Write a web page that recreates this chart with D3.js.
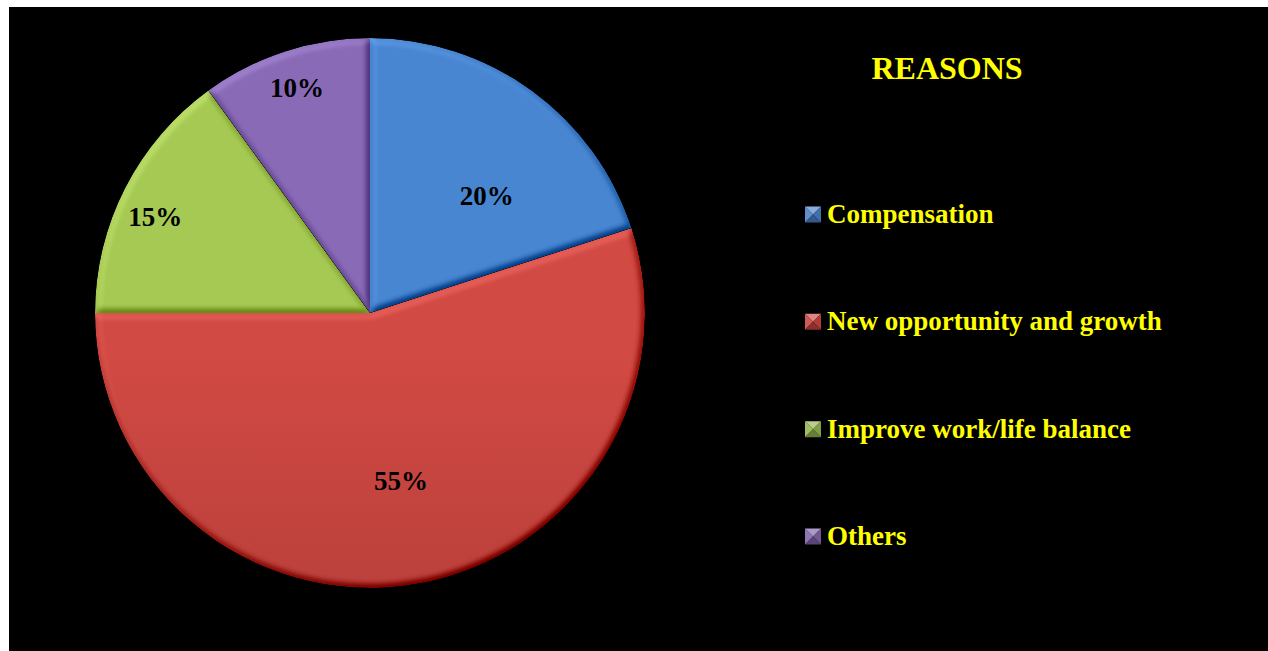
<!DOCTYPE html>
<html>
<head>
<meta charset="utf-8">
<script src="https://cdn.jsdelivr.net/npm/d3@7"></script>
<style>
  html, body { margin: 0; padding: 0; background: #ffffff; }
  svg { display: block; }
</style>
</head>
<body>
<svg id="chart" width="1268" height="651"></svg>
<script>
// Reasons for leaving, share of respondents (%)
const categories = ["Compensation", "New opportunity and growth", "Improve work/life balance", "Others"];
const shares = [20, 55, 15, 10];
const sliceLabels = ["20%", "55%", "15%", "10%"];
const legendTitle = "REASONS";

// top / bottom shades of each slice's vertical gradient
const topColors = ["#4886d2", "#d24a44", "#a6c954", "#886ab6"];
const bottomColors = ["#284a88", "#9e3330", "#4a6616", "#5a4382"];
const baseColors = ["#4a7fc6", "#c9433f", "#94b44e", "#8063a8"];

const W = 1268, H = 651;
const cx = 370, cy = 313, R = 275;

const svg = d3.select("#chart");
const defs = svg.append("defs");

// bevel: blurred alpha -> diffuse light, recentred so flat areas keep their colour
const bevel = defs.append("filter").attr("id", "bevel")
  .attr("x", "-5%").attr("y", "-5%").attr("width", "110%").attr("height", "110%")
  .attr("color-interpolation-filters", "sRGB");
bevel.append("feGaussianBlur").attr("in", "SourceAlpha").attr("stdDeviation", 3.5).attr("result", "blur");
const diff = bevel.append("feDiffuseLighting").attr("in", "blur")
  .attr("surfaceScale", 5).attr("diffuseConstant", 1).attr("lighting-color", "#ffffff").attr("result", "light");
diff.append("feDistantLight").attr("azimuth", 235).attr("elevation", 55);
bevel.append("feComposite").attr("in", "SourceGraphic").attr("in2", "light")
  .attr("operator", "arithmetic").attr("k1", 0).attr("k2", 1).attr("k3", 0.4).attr("k4", -0.4 * Math.sin(55 * Math.PI / 180))
  .attr("result", "lit");
bevel.append("feComposite").attr("in", "lit").attr("in2", "SourceAlpha").attr("operator", "in");

topColors.forEach((c, i) => {
  const g = defs.append("linearGradient").attr("id", "grad" + i)
    .attr("gradientUnits", "userSpaceOnUse")
    .attr("x1", 0).attr("y1", cy - R).attr("x2", 0).attr("y2", cy + R);
  g.append("stop").attr("offset", 0).attr("stop-color", c);
  g.append("stop").attr("offset", 1).attr("stop-color", bottomColors[i]);
});

// background
svg.append("rect").attr("width", W).attr("height", H).attr("fill", "#ffffff");
svg.append("rect").attr("x", 9).attr("y", 7).attr("width", W - 9).attr("height", H - 7).attr("fill", "#000000");

// pie
const pie = d3.pie().sort(null).value(d => d).startAngle(0).endAngle(2 * Math.PI);
const arcs = pie(shares);
const arc = d3.arc().innerRadius(0).outerRadius(R);

const pieG = svg.append("g").attr("transform", `translate(${cx},${cy})`);
pieG.selectAll("path.slice")
  .data(arcs)
  .join("path")
  .attr("class", "slice")
  .attr("d", arc)
  .attr("fill", (d, i) => `url(#grad${i})`)
  .attr("filter", "url(#bevel)");

// value labels: small slices sit near the rim, large ones further in
const labelLayout = [
  { rf: 0.60, shift: 9 },
  { rf: 0.62, shift: -1.5 },
  { rf: 0.855, shift: -3 },
  { rf: 0.86, shift: 0 }
];
pieG.selectAll("text.value")
  .data(arcs)
  .join("text")
  .attr("class", "value")
  .attr("transform", (d, i) => {
    const a = (d.startAngle + d.endAngle) / 2 + labelLayout[i].shift * Math.PI / 180;
    const r = R * labelLayout[i].rf;
    return `translate(${r * Math.sin(a)},${-r * Math.cos(a)})`;
  })
  .attr("text-anchor", "middle")
  .attr("dy", "0.33em")
  .attr("font-family", "'Liberation Serif', 'Times New Roman', serif")
  .attr("font-weight", "bold")
  .attr("font-size", 27)
  .attr("fill", "#000000")
  .text((d, i) => sliceLabels[i]);

// legend
svg.append("text")
  .attr("x", 947).attr("y", 79)
  .attr("text-anchor", "middle")
  .attr("font-family", "'Liberation Serif', 'Times New Roman', serif")
  .attr("font-weight", "bold")
  .attr("font-size", 32)
  .attr("fill", "#ffff00")
  .text(legendTitle);

const legendY = d3.scalePoint().domain(categories).range([215, 537]);
const box = 16;
const legend = svg.append("g").selectAll("g")
  .data(categories)
  .join("g")
  .attr("transform", d => `translate(805,${legendY(d)})`);

// bevelled marker: four triangles meeting at the centre
const h = box / 2;
const facets = [
  { pts: [[-h, -h], [h, -h], [0, 0]], k: 0.35 },   // top, lit
  { pts: [[-h, -h], [-h, h], [0, 0]], k: 0.12 },   // left
  { pts: [[h, -h], [h, h], [0, 0]], k: -0.12 },    // right
  { pts: [[-h, h], [h, h], [0, 0]], k: -0.3 }      // bottom, shaded
];
legend.each(function (d, i) {
  const g = d3.select(this).append("g").attr("transform", `translate(${h},-0.5)`);
  facets.forEach(f => {
    const c = d3.color(baseColors[i]);
    const col = f.k > 0 ? d3.interpolateRgb(c, "#ffffff")(f.k) : d3.interpolateRgb(c, "#000000")(-f.k);
    g.append("path")
      .attr("d", "M" + f.pts.map(p => p.join(",")).join("L") + "Z")
      .attr("fill", col);
  });
});
legend.append("text")
  .attr("x", 22)
  .attr("y", 8)
  .attr("font-family", "'Liberation Serif', 'Times New Roman', serif")
  .attr("font-weight", "bold")
  .attr("font-size", 27)
  .attr("fill", "#ffff00")
  .text(d => d);
</script>
</body>
</html>
